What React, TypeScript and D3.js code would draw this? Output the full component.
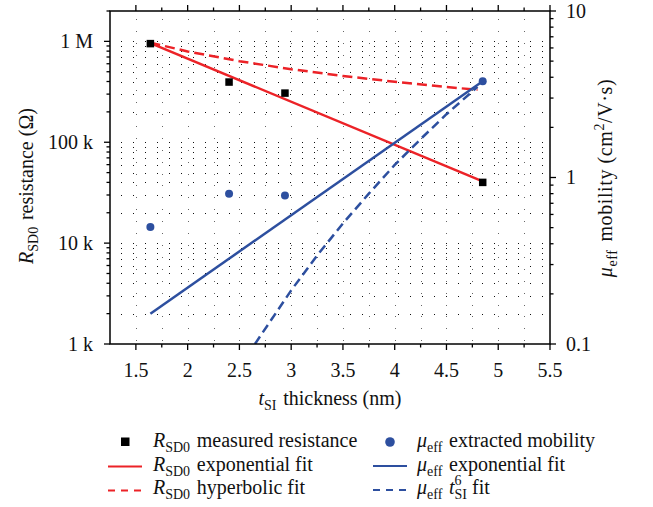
import React, { useEffect } from 'react';
import * as d3 from 'd3';

// measured points
const thickness = [1.64, 2.4, 2.94, 4.85];
const resistance = [950e3, 395e3, 307e3, 40e3];
const mobility = [0.505, 0.8, 0.78, 3.79];

// fits
const rExpT = [1.64, 4.85];
const rExpR = [960e3, 41e3];
const rHypT = [1.64, 2, 2.5, 3, 3.5, 4, 4.5, 4.8];
const rHypR = [970e3, 795e3, 636e3, 530e3, 454e3, 398e3, 353e3, 331e3];
const muExpT = [1.64, 4.85];
const muExpM = [0.152, 3.79];
const muT6T = [2.65, 3, 3.25, 3.5, 3.75, 4, 4.25, 4.5, 4.8];
const muT6M = [0.1, 0.21, 0.34, 0.53, 0.8, 1.19, 1.7, 2.4, 3.5];

const xTicks = [1.5, 2, 2.5, 3, 3.5, 4, 4.5, 5, 5.5];
const xTickLabels = ['1.5', '2', '2.5', '3', '3.5', '4', '4.5', '5', '5.5'];
const leftMajor = [1e3, 1e4, 1e5, 1e6];
const leftLabels = ['1 k', '10 k', '100 k', '1 M'];
const rightMajor = [0.1, 1, 10];
const rightLabels = ['0.1', '1', '10'];

const RED = '#ec2227';
const BLUE = '#2d4f9f';
const FONT = '"Liberation Serif", "DejaVu Serif", serif';

const W = 653, H = 507;
const m = { left: 110, right: 550, top: 11, bottom: 344 };

export default function App() {
  useEffect(() => {
    document.body.style.margin = '0';
  }, []);

  const x = d3.scaleLinear().domain([1.25, 5.5]).range([m.left, m.right]);
  const yL = d3.scaleLog().domain([1e3, 2e6]).range([m.bottom, m.top]);
  const yR = d3.scaleLog().domain([0.1, 10]).range([m.bottom, m.top]);

  const xMinor = d3.range(1.5, 5.51, 0.25);
  const leftAll = yL.ticks();
  const rightAll = yR.ticks();

  const lineL = d3.line<[number, number]>().x(d => x(d[0])).y(d => yL(d[1]));
  const lineR = d3.line<[number, number]>().x(d => x(d[0])).y(d => yR(d[1]));
  const zip = (a: number[], b: number[]) => a.map((v, i) => [v, b[i]] as [number, number]);

  const isMajor = (v: number) => Math.abs(Math.log10(v) - Math.round(Math.log10(v))) < 1e-6;
  const px = (v: number) => Math.round(v) + 0.5;

  const sub = (s: string) => (
    <>
      <tspan dy={5} fontSize={14} fontStyle="normal">{s}</tspan>
      <tspan dy={-5}>{'\u200a'}</tspan>
    </>
  );

  const R = <><tspan fontStyle="italic">R</tspan>{sub('SD0')}</>;
  const MU = <><tspan fontStyle="italic">μ</tspan>{sub('eff')}</>;

  return (
    <svg width={W} height={H} style={{ display: 'block' }} fontFamily={FONT}>
      <rect width={W} height={H} fill="#fff" />
      <defs>
        <clipPath id="plot">
          <rect x={m.left} y={m.top} width={m.right - m.left} height={m.bottom - m.top} />
        </clipPath>
      </defs>

      {/* dotted grid */}
      <g strokeWidth={1} shapeRendering="crispEdges">
        {xMinor.filter(v => v < 5.5).map(v => (
          <line key={'gx' + v} x1={px(x(v))} x2={px(x(v))} y1={m.top} y2={m.bottom}
            stroke="#666" strokeDasharray="1 10.9" strokeDashoffset={4} />
        ))}
        {leftAll.filter(v => yL(v) > m.top + 1 && yL(v) < m.bottom - 1).map(v => (
          <line key={'gy' + v} x1={m.left} x2={m.right} y1={px(yL(v))} y2={px(yL(v))}
            stroke="#111" strokeDasharray="1 11.03" strokeDashoffset={0.83} />
        ))}
      </g>

      {/* fits */}
      <g clipPath="url(#plot)" fill="none" strokeWidth={2.5}>
        <path d={lineL(zip(rExpT, rExpR)) || ''} stroke={RED} />
        <path d={lineL(zip(rHypT, rHypR)) || ''} stroke={RED} strokeDasharray="10 5" />
        <path d={lineR(zip(muExpT, muExpM)) || ''} stroke={BLUE} />
        <path d={lineR(zip(muT6T, muT6M)) || ''} stroke={BLUE} strokeDasharray="9 5" />
      </g>

      {/* points */}
      {thickness.map((t, i) => (
        <rect key={'s' + i} x={x(t) - 3.75} y={yL(resistance[i]) - 3.75} width={7.5} height={7.5} fill="#000" />
      ))}
      {thickness.map((t, i) => (
        <circle key={'c' + i} cx={x(t)} cy={yR(mobility[i])} r={4} fill={BLUE} />
      ))}

      {/* frame */}
      <rect x={m.left} y={m.top} width={m.right - m.left} height={m.bottom - m.top}
        fill="none" stroke="#000" strokeWidth={1.5} />

      {/* ticks */}
      <g stroke="#000" strokeWidth={1.3}>
        {xMinor.map(v => {
          const major = xTicks.includes(v);
          const len = major ? 6 : 3.5;
          return (
            <g key={'xt' + v}>
              <line x1={x(v)} x2={x(v)} y1={m.bottom} y2={m.bottom + len} />
              <line x1={x(v)} x2={x(v)} y1={m.top} y2={m.top - len} />
            </g>
          );
        })}
        {leftAll.map(v => (
          <line key={'lt' + v} x1={m.left} x2={m.left - (isMajor(v) ? 6 : 3.5)} y1={yL(v)} y2={yL(v)} />
        ))}
        {rightAll.map(v => (
          <line key={'rt' + v} x1={m.right} x2={m.right + (isMajor(v) ? 6 : 3.5)} y1={yR(v)} y2={yR(v)} />
        ))}
      </g>

      {/* tick labels */}
      <g fontSize={20} fill="#111">
        {xTicks.map((v, i) => (
          <text key={'xl' + v} x={x(v)} y={377} textAnchor="middle">{xTickLabels[i]}</text>
        ))}
        {leftMajor.map((v, i) => (
          <text key={'ll' + v} x={93} y={yL(v)} dy="0.33em" textAnchor="end">{leftLabels[i]}</text>
        ))}
        {rightMajor.map((v, i) => (
          <text key={'rl' + v} x={566} y={yR(v)} dy="0.33em" textAnchor="start">{rightLabels[i]}</text>
        ))}
      </g>

      {/* axis titles */}
      <g fontSize={20} fill="#111">
        <text x={330} y={405} textAnchor="middle">
          <tspan fontStyle="italic">t</tspan>{sub('SI')} thickness (nm)
        </text>
        <text transform={`translate(33,186) rotate(-90)`} textAnchor="middle">
          {R} resistance (Ω)
        </text>
        <text transform={`translate(612,178) rotate(-90)`} textAnchor="middle" letterSpacing={0.6}>
          {MU} mobility (cm<tspan dy={-8} fontSize={14}>2</tspan><tspan dy={8}>/V·s)</tspan>
        </text>
      </g>

      {/* legend */}
      <g fontSize={20} fill="#111">
        <rect x={121} y={437.5} width={8.5} height={8.5} fill="#000" />
        <text x={153} y={447}>{R} measured resistance</text>
        <line x1={108} x2={142} y1={466.5} y2={466.5} stroke={RED} strokeWidth={2.2} />
        <text x={153} y={470.5}>{R} exponential fit</text>
        <line x1={108} x2={142} y1={490.5} y2={490.5} stroke={RED} strokeWidth={2.2} strokeDasharray="7 6" />
        <text x={153} y={494}>{R} hyperbolic fit</text>

        <circle cx={390} cy={442} r={4.8} fill={BLUE} />
        <text x={417} y={447}>{MU} extracted mobility</text>
        <line x1={373} x2={407} y1={466} y2={466} stroke={BLUE} strokeWidth={2.2} />
        <text x={417} y={470.5}>{MU} exponential fit</text>
        <line x1={373} x2={407} y1={490} y2={490} stroke={BLUE} strokeWidth={2.2} strokeDasharray="7 6" />
        <text x={417} y={494}>
          {MU} <tspan fontStyle="italic">t</tspan>
          <tspan dy={-9} fontSize={14}>6</tspan>
          <tspan dx={-7} dy={14} fontSize={14}>SI</tspan>
          <tspan dy={-5}> fit</tspan>
        </text>
      </g>
    </svg>
  );
}
